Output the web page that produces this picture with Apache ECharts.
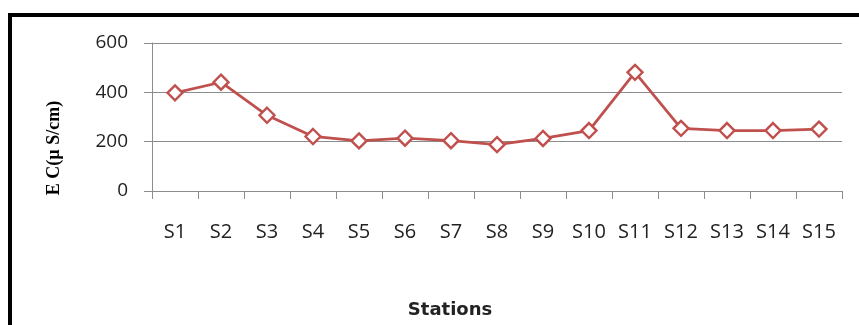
<!DOCTYPE html>
<html>
<head>
<meta charset="utf-8">
<script src="https://cdn.jsdelivr.net/npm/echarts@6/dist/echarts.min.js"></script>
<style>
  html, body { margin: 0; padding: 0; background: #fff; }
  #chart { width: 859px; height: 325px; }
</style>
</head>
<body>
<div id="chart"></div>
<script>
// Electrical conductivity per sampling station
const stations = ['S1','S2','S3','S4','S5','S6','S7','S8','S9','S10','S11','S12','S13','S14','S15'];
const ecValues = [398, 441, 307, 221, 203, 214, 204, 188, 213, 245, 481, 254, 245, 245, 251];
const yTicks = { min: 0, max: 600, interval: 200 };

const chart = echarts.init(document.getElementById('chart'));
chart.setOption({
  animation: false,
  backgroundColor: '#ffffff',
  grid: { left: 152, right: 17, top: 43, bottom: 134, containLabel: false },
  xAxis: {
    type: 'category',
    data: stations,
    boundaryGap: true,
    axisLine: { show: true, lineStyle: { color: '#8c8c8c', width: 1 } },
    axisTick: { show: true, length: 8, alignWithLabel: false, lineStyle: { color: '#8c8c8c' } },
    axisLabel: { margin: 31, color: '#222', fontFamily: 'Open Sans', fontSize: 20 },
    splitLine: { show: false }
  },
  yAxis: {
    type: 'value',
    min: yTicks.min, max: yTicks.max, interval: yTicks.interval,
    axisLine: { show: true, lineStyle: { color: '#8c8c8c', width: 1 } },
    axisTick: { show: true, length: 8, lineStyle: { color: '#8c8c8c' } },
    axisLabel: { margin: 24, color: '#222', fontFamily: 'Open Sans', fontSize: 19 },
    splitLine: { show: true, lineStyle: { color: '#8c8c8c', width: 1 } }
  },
  series: [{
    type: 'line',
    data: ecValues,
    symbol: 'diamond',
    symbolSize: 15,
    lineStyle: { color: '#C0504D', width: 2.75 },
    itemStyle: { color: '#ffffff', borderColor: '#C0504D', borderWidth: 2.4 },
    z: 5
  }],
  graphic: [
    {
      type: 'rect',
      shape: { x: 10, y: 15, width: 1000, height: 500 },
      style: { fill: 'none', stroke: '#000', lineWidth: 4 },
      silent: true
    },
    {
      type: 'text',
      x: 54, y: 148,
      rotation: Math.PI / 2,
      style: {
        text: 'E C(µ S/cm)',
        font: 'bold 18px "Liberation Serif"',
        fill: '#000',
        align: 'center',
        verticalAlign: 'middle'
      }
    },
    {
      type: 'text',
      x: 450, y: 310,
      style: {
        text: 'Stations',
        font: 'bold 18px "DejaVu Sans"',
        fill: '#222',
        align: 'center',
        verticalAlign: 'middle'
      }
    }
  ]
});
</script>
</body>
</html>
